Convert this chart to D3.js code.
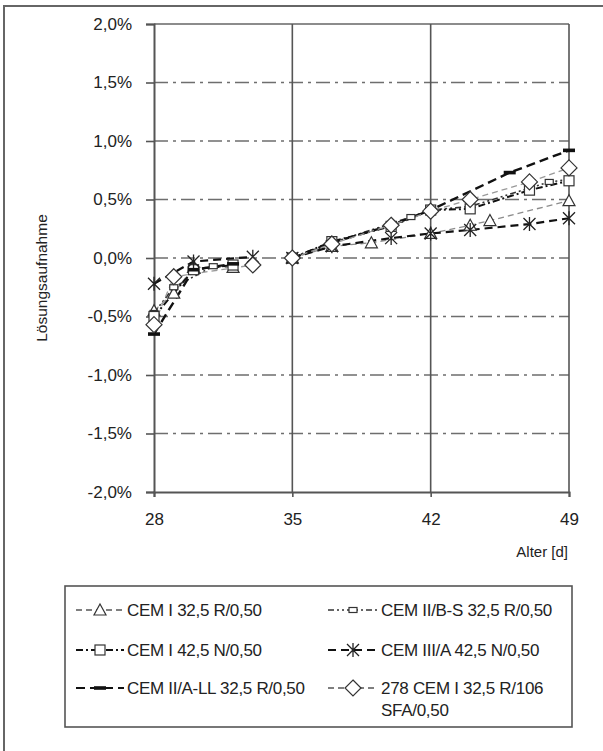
<!DOCTYPE html>
<html>
<head>
<meta charset="utf-8">
<script src="https://cdn.jsdelivr.net/npm/d3@7"></script>
<style>
  html, body { margin: 0; padding: 0; background: #fff; }
  svg { display: block; font-family: "Liberation Sans", Arial, sans-serif; }
</style>
</head>
<body>
<svg id="chart" width="603" height="751"></svg>
<script>
// Age in days (null breaks the line between the two test phases)
const daysIR325 = [28, 29, 30, 32, null, 35, 37, 39, 42, 44, 45, 49];
const valsIR325 = [-0.45, -0.30, -0.08, -0.08, null, 0, 0.10, 0.13, 0.21, 0.28, 0.32, 0.49];

const daysIN425 = [28, 30, 32, null, 35, 37, 40, 42, 44, 47, 49];
const valsIN425 = [-0.50, -0.10, -0.06, null, 0, 0.14, 0.27, 0.41, 0.42, 0.58, 0.66];

const daysIIALL = [28, 30, 32, null, 35, 37, 40, 42, 46, 49];
const valsIIALL = [-0.65, -0.10, -0.05, null, 0, 0.13, 0.28, 0.41, 0.73, 0.92];

const daysIIBS = [28, 29, 31, null, 35, 37, 41, 42, 44, 48, 49];
const valsIIBS = [-0.47, -0.25, -0.07, null, 0, 0.13, 0.35, 0.41, 0.44, 0.65, 0.67];

const daysIIIA = [28, 30, 33, null, 35, 37, 40, 42, 44, 47, 49];
const valsIIIA = [-0.22, -0.03, 0.01, null, 0, 0.10, 0.17, 0.21, 0.24, 0.29, 0.34];

const daysSFA = [28, 29, 33, null, 35, 37, 40, 42, 44, 47, 49];
const valsSFA = [-0.57, -0.16, -0.06, null, 0, 0.12, 0.28, 0.40, 0.50, 0.65, 0.77];

const seriesNames = [
  "CEM I 32,5 R/0,50",
  "CEM II/B-S 32,5 R/0,50",
  "CEM I 42,5 N/0,50",
  "CEM III/A 42,5 N/0,50",
  "CEM II/A-LL 32,5 R/0,50",
  "278 CEM I 32,5 R/106 SFA/0,50"
];

const xTicks = [28, 35, 42, 49];
const yTicks = [2.0, 1.5, 1.0, 0.5, 0.0, -0.5, -1.0, -1.5, -2.0];

const svg = d3.select("#chart");
const x = d3.scaleLinear().domain([28, 49]).range([154, 569]);
const y = d3.scaleLinear().domain([-2, 2]).range([492, 24]);

// outer frame (only top and left edges fall inside the page)
svg.append("rect").attr("x", 4).attr("y", 6).attr("width", 620).attr("height", 780)
  .attr("fill", "none").attr("stroke", "#666").attr("stroke-width", 2);

const fmt = v => d3.format(".1f")(v).replace(".", ",").replace("−", "-") + "%";

// horizontal dash-dot gridlines
svg.append("g").selectAll("line")
  .data(yTicks.filter(v => v > -2 && v < 2))
  .join("line")
  .attr("x1", x(28)).attr("x2", x(49))
  .attr("y1", d => y(d)).attr("y2", d => y(d))
  .attr("stroke", "#6e6e6e").attr("stroke-width", 1.7)
  .attr("stroke-dasharray", "14,5,3,5");

// top border and vertical gridlines
svg.append("line").attr("x1", x(28)).attr("x2", x(49)).attr("y1", y(2)).attr("y2", y(2))
  .attr("stroke", "#666").attr("stroke-width", 1.6);
svg.append("g").selectAll("line")
  .data(xTicks.slice(1))
  .join("line")
  .attr("x1", d => x(d)).attr("x2", d => x(d))
  .attr("y1", y(2)).attr("y2", y(-2))
  .attr("stroke", "#555").attr("stroke-width", 1.6);

// y axis
const yAxis = d3.axisLeft(y).tickValues(yTicks).tickFormat(fmt).tickSize(8).tickPadding(14);
const gy = svg.append("g").attr("transform", `translate(${x(28)},0)`).call(yAxis);
gy.select(".domain").attr("stroke", "#555").attr("stroke-width", 2);
gy.selectAll(".tick line").attr("stroke", "#555").attr("stroke-width", 1.6);
gy.selectAll(".tick text").attr("font-size", 17).attr("fill", "#222")
  .attr("font-family", "Liberation Sans, Arial, sans-serif");

// x axis
const xAxis = d3.axisBottom(x).tickValues(xTicks).tickFormat(d3.format("d")).tickSize(5).tickPadding(16);
const gx = svg.append("g").attr("transform", `translate(0,${y(-2)})`).call(xAxis);
gx.select(".domain").attr("stroke", "#555").attr("stroke-width", 2);
gx.selectAll(".tick line").attr("stroke", "#555").attr("stroke-width", 1.6);
gx.selectAll(".tick text").attr("font-size", 17).attr("fill", "#222")
  .attr("font-family", "Liberation Sans, Arial, sans-serif");

// axis titles
svg.append("text").attr("transform", "translate(47,278) rotate(-90)")
  .attr("text-anchor", "middle").attr("font-size", 15.5).attr("fill", "#222")
  .text("Lösungsaufnahme");
svg.append("text").attr("x", 568).attr("y", 557).attr("text-anchor", "end")
  .attr("font-size", 15).attr("fill", "#222").text("Alter [d]");

// markers
function drawMarker(g, type, cx, cy) {
  if (type === "triangle") {
    g.append("path").attr("d", `M${cx},${cy - 6}L${cx + 6},${cy + 5}L${cx - 6},${cy + 5}Z`)
      .attr("fill", "#fff").attr("stroke", "#333").attr("stroke-width", 1.2);
  } else if (type === "square") {
    g.append("rect").attr("x", cx - 5).attr("y", cy - 5).attr("width", 10).attr("height", 10)
      .attr("fill", "#fff").attr("stroke", "#333").attr("stroke-width", 1.2);
  } else if (type === "rect") {
    g.append("rect").attr("x", cx - 4).attr("y", cy - 2.5).attr("width", 8).attr("height", 5)
      .attr("fill", "#fff").attr("stroke", "#333").attr("stroke-width", 1.2);
  } else if (type === "bar") {
    g.append("rect").attr("x", cx - 6).attr("y", cy - 1.8).attr("width", 12).attr("height", 3.6)
      .attr("fill", "#111");
  } else if (type === "star") {
    g.append("path")
      .attr("d", `M${cx - 6},${cy - 6}L${cx + 6},${cy + 6}M${cx - 6},${cy + 6}L${cx + 6},${cy - 6}M${cx},${cy - 7}L${cx},${cy + 7}`)
      .attr("stroke", "#222").attr("stroke-width", 1.3).attr("fill", "none");
  } else if (type === "diamond") {
    g.append("path").attr("d", `M${cx},${cy - 8}L${cx + 8},${cy}L${cx},${cy + 8}L${cx - 8},${cy}Z`)
      .attr("fill", "#fff").attr("stroke", "#333").attr("stroke-width", 1.2);
  }
}

const series = [
  { name: seriesNames[0], days: daysIR325, vals: valsIR325, marker: "triangle", color: "#8c8c8c", width: 1.3, dash: "6,4" },
  { name: seriesNames[1], days: daysIIBS, vals: valsIIBS, marker: "rect", color: "#333", width: 1.6, dash: "6,3,2,3,2,3" },
  { name: seriesNames[2], days: daysIN425, vals: valsIN425, marker: "square", color: "#111", width: 2, dash: "7,3,2,3" },
  { name: seriesNames[3], days: daysIIIA, vals: valsIIIA, marker: "star", color: "#111", width: 2.2, dash: "8,5" },
  { name: seriesNames[4], days: daysIIALL, vals: valsIIALL, marker: "bar", color: "#111", width: 2.4, dash: "9,5" },
  { name: seriesNames[5], days: daysSFA, vals: valsSFA, marker: "diamond", color: "#9a9a9a", width: 1.3, dash: "6,4" }
];

const line = d3.line().defined(d => d[0] !== null).x(d => x(d[0])).y(d => y(d[1]));
const plot = svg.append("g");
series.forEach(s => {
  const pts = s.days.map((d, i) => [d, s.vals[i]]);
  plot.append("path").datum(pts).attr("d", line)
    .attr("fill", "none").attr("stroke", s.color).attr("stroke-width", s.width)
    .attr("stroke-dasharray", s.dash);
});
series.forEach(s => {
  const g = plot.append("g");
  s.days.forEach((d, i) => { if (d !== null) drawMarker(g, s.marker, x(d), y(s.vals[i])); });
});

// legend
const lg = svg.append("g");
lg.append("rect").attr("x", 65).attr("y", 586).attr("width", 507).attr("height", 141)
  .attr("fill", "#fff").attr("stroke", "#555").attr("stroke-width", 1.6);
const cols = [{ x1: 76, x2: 124, tx: 127 }, { x1: 328, x2: 378, tx: 381 }];
const rows = [610, 650, 688];
series.forEach((s, i) => {
  const c = cols[i % 2], ry = rows[Math.floor(i / 2)];
  lg.append("line").attr("x1", c.x1).attr("x2", c.x2).attr("y1", ry).attr("y2", ry)
    .attr("stroke", s.color === "#9a9a9a" || s.color === "#8c8c8c" ? "#555" : s.color)
    .attr("stroke-width", Math.min(s.width, 2)).attr("stroke-dasharray", s.dash);
  drawMarker(lg, s.marker, (c.x1 + c.x2) / 2, ry);
  const words = s.name === seriesNames[5] ? ["278 CEM I 32,5 R/106", "SFA/0,50"] : [s.name];
  words.forEach((w, k) => {
    lg.append("text").attr("x", c.tx).attr("y", ry + 6 + k * 22)
      .attr("font-size", 17).attr("fill", "#222").attr("letter-spacing", -0.3).text(w);
  });
});
</script>
</body>
</html>
